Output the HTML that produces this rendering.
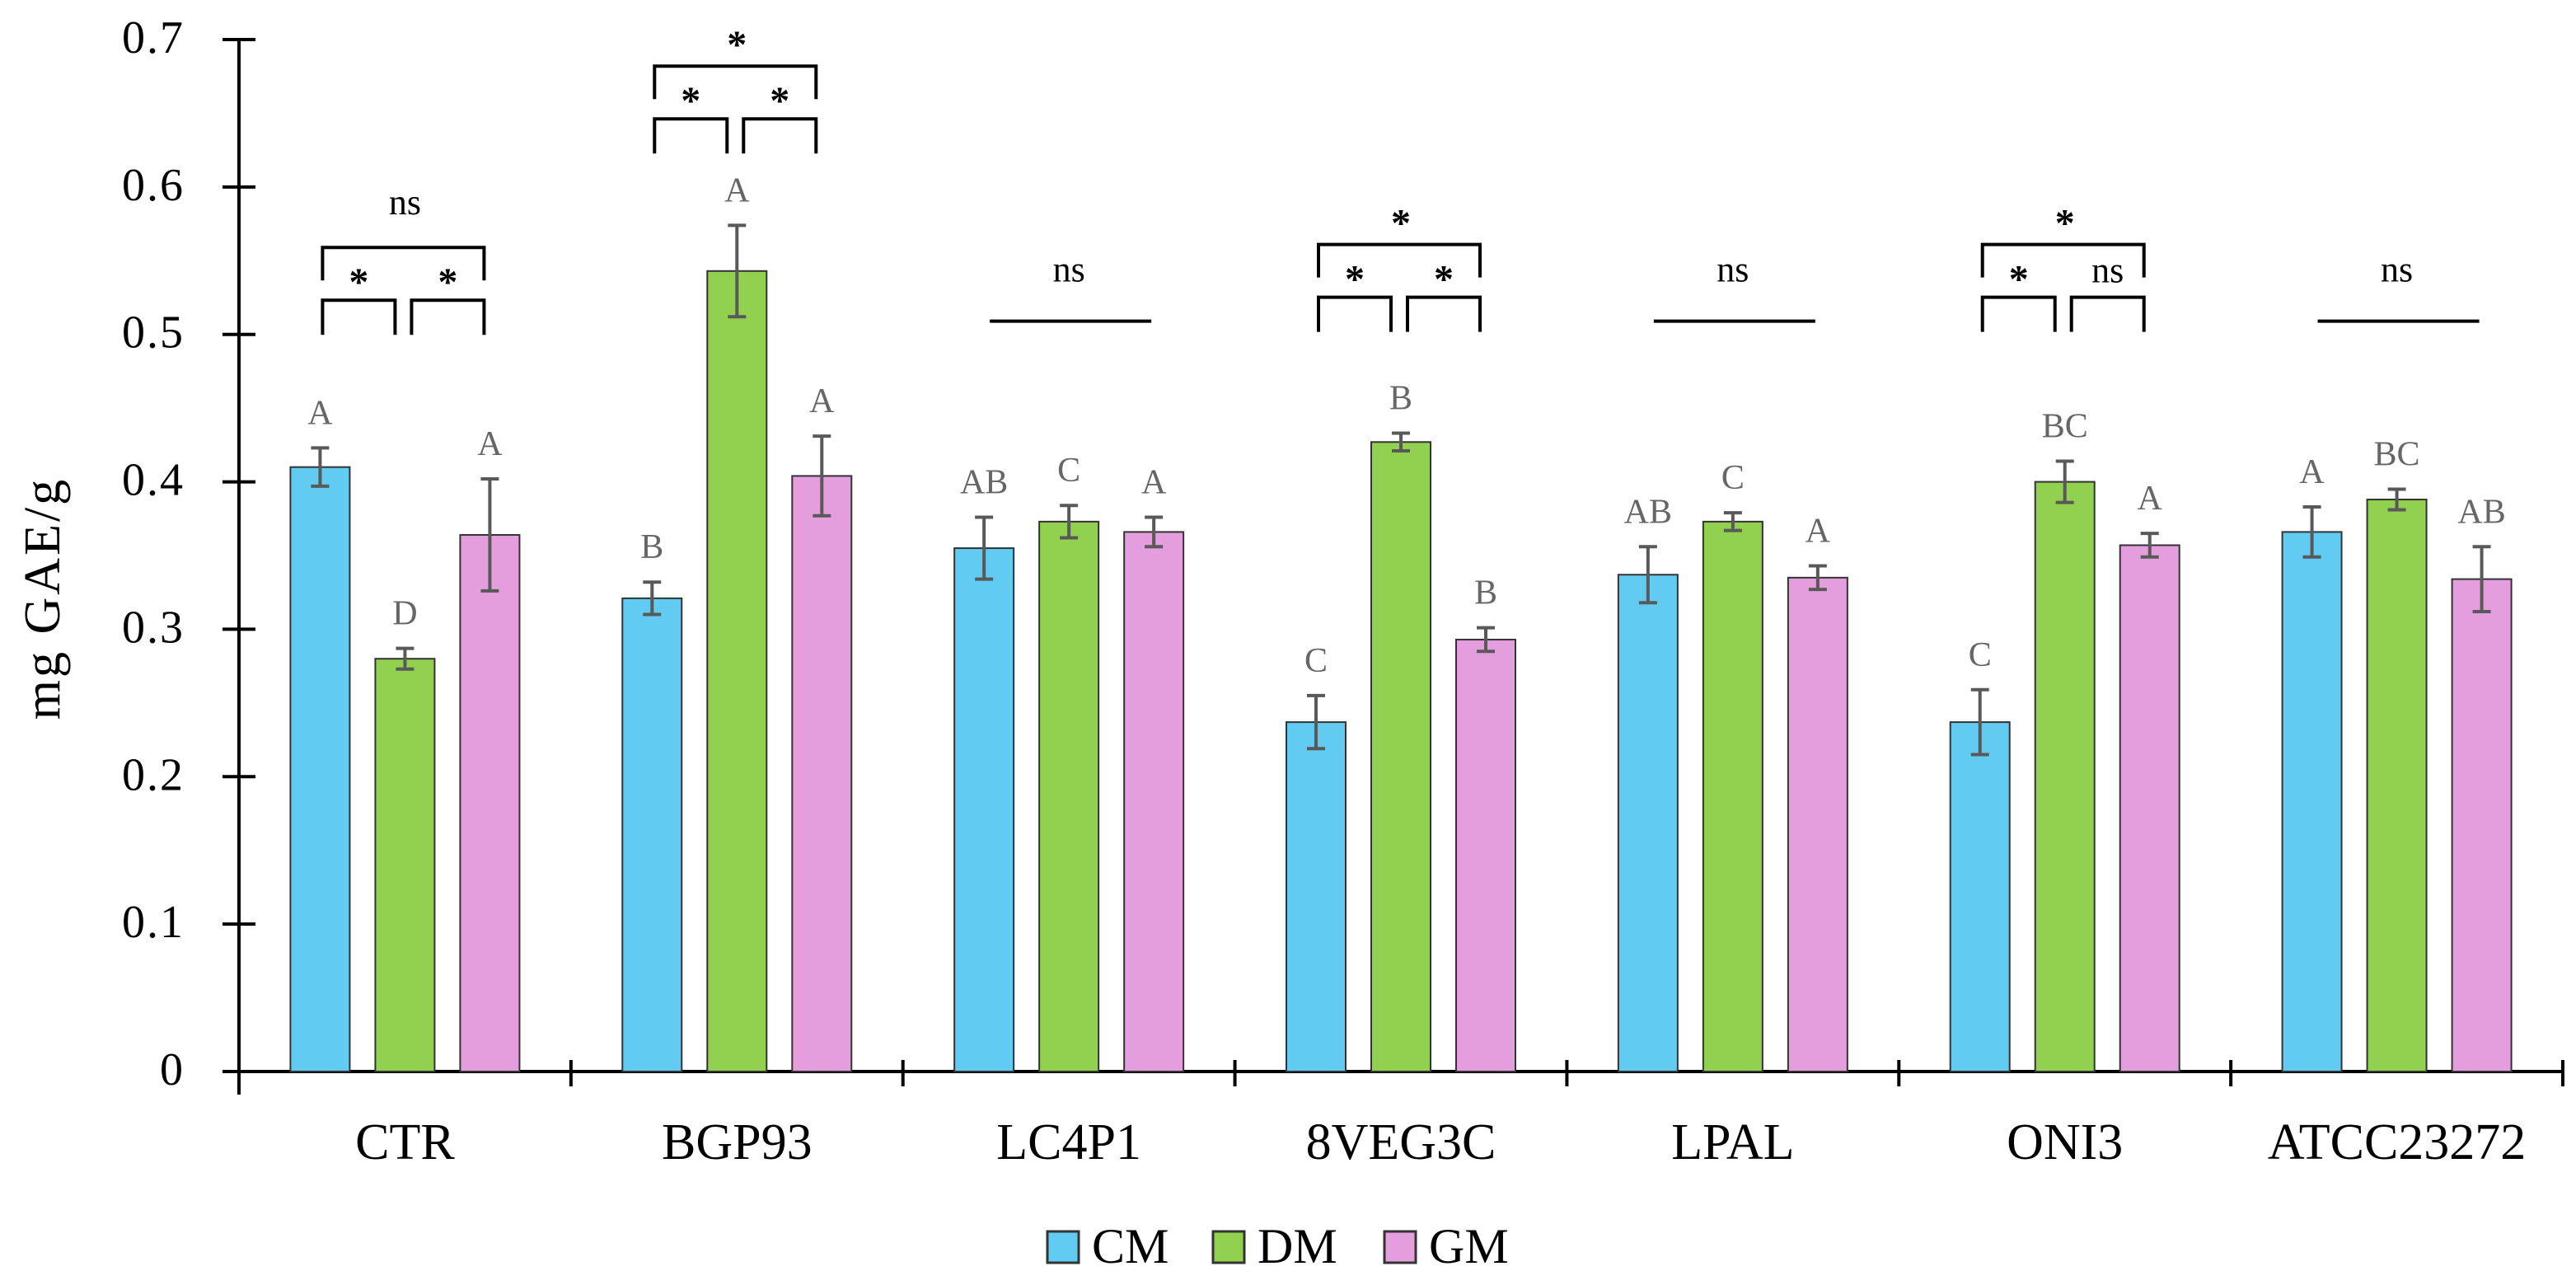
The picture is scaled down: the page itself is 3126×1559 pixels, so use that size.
<!DOCTYPE html>
<html><head><meta charset="utf-8"><style>
html,body{margin:0;padding:0;background:#fff;}
svg{display:block;font-family:"Liberation Serif",serif;}
</style></head><body>
<svg id="chart" width="3126" height="1559" viewBox="0 0 3126 1559" xmlns="http://www.w3.org/2000/svg">
<text x="0" y="0" transform="translate(72,726) rotate(-90)" text-anchor="middle" font-size="62" letter-spacing="3" fill="#000">mg GAE/g</text>
<g id="plot"></g>
</svg>
<script>
const categories = ["CTR","BGP93","LC4P1","8VEG3C","LPAL","ONI3","ATCC23272"];
const seriesNames = ["CM","DM","GM"];
const cmValues = [0.410,0.321,0.355,0.237,0.337,0.237,0.366];
const dmValues = [0.280,0.543,0.373,0.427,0.373,0.400,0.388];
const gmValues = [0.364,0.404,0.366,0.293,0.335,0.357,0.334];
const cmErr = [0.013,0.011,0.021,0.018,0.019,0.022,0.017];
const dmErr = [0.007,0.031,0.011,0.006,0.006,0.014,0.007];
const gmErr = [0.038,0.027,0.010,0.008,0.008,0.008,0.022];
const cmLetters = ["A","B","AB","C","AB","C","A"];
const dmLetters = ["D","A","C","B","C","BC","BC"];
const gmLetters = ["A","A","A","B","A","A","AB"];
const yTicks = [0,0.1,0.2,0.3,0.4,0.5,0.6,0.7];
const sigType = ["tri","tri","ns","tri","ns","tri","ns"];
const sigTop = [0.559,0.682,0.509,0.561,0.509,0.561,0.509];
const sigLeft = ["*","*","","*","","*",""];
const sigRight = ["*","*","","*","","ns",""];
const sigOverall = ["ns","*","ns","*","ns","*","ns"];
const colors = ["#62CBF2","#92D050","#E59EDD"];

const NS="http://www.w3.org/2000/svg";
const plot=document.getElementById('plot');
const X0=290, X1=3110, Y0=1300, YTOP=48, YMAX=0.7;
const gw=(X1-X0)/categories.length;
function y(v){return Y0-(v/YMAX)*(Y0-YTOP);}
function gx(i){return X0+gw*(i+0.5);}
function el(tag,attrs,parent){const e=document.createElementNS(NS,tag);for(const k in attrs)e.setAttribute(k,attrs[k]);(parent||plot).appendChild(e);return e;}
function txt(s,attrs,parent){const e=el('text',attrs,parent);e.textContent=s;return e;}

let a=el('line',{x1:X0,y1:YTOP,x2:X0,y2:Y0+28,stroke:'#000','stroke-width':4});


a=el('line',{x1:X0,y1:Y0,x2:X1,y2:Y0,stroke:'#000','stroke-width':4});


yTicks.forEach(t=>{
  const l=el('line',{x1:X0-20,y1:y(t),x2:X0+20,y2:y(t),stroke:'#000','stroke-width':4});
  
  
  const tx=txt(t===0?"0":t.toFixed(1),{x:X0-66,y:y(t)+16,'text-anchor':'end','font-size':56,'letter-spacing':2,fill:'#000'});
  
  
});
for(let i=0;i<=categories.length;i++){
  const xx=X0+gw*i;
  const l=el('line',{x1:xx,y1:Y0-14,x2:xx,y2:Y0+18,stroke:'#000','stroke-width':4});
  
  
}
const vals=[cmValues,dmValues,gmValues], errs=[cmErr,dmErr,gmErr], lets=[cmLetters,dmLetters,gmLetters];
const off=[-103,0,103], bw=72;
categories.forEach((c,i)=>{
  const cx=gx(i);
  const t=txt(c,{x:cx,y:1406,'text-anchor':'middle','font-size':62,fill:'#000'});
  
  
  for(let s=0;s<3;s++){
    const v=vals[s][i], e=errs[s][i], bx=cx+off[s];
    const r=el('rect',{x:bx-bw/2,y:y(v),width:bw,height:Y0-y(v),fill:colors[s],stroke:'#333','stroke-width':2});
    
    
    const g=el('g',{stroke:'#595959','stroke-width':4});
    
    
    el('line',{x1:bx,y1:y(v+e),x2:bx,y2:y(v-e)},g);
    el('line',{x1:bx-11,y1:y(v+e),x2:bx+11,y2:y(v+e)},g);
    el('line',{x1:bx-11,y1:y(v-e),x2:bx+11,y2:y(v-e)},g);
    const lt=txt(lets[s][i],{x:bx,y:y(v+e)-29,'text-anchor':'middle','font-size':42,fill:'#666'});
    
    
  }
  const top=y(sigTop[i]);
  const sg=el('g',{fill:'none',stroke:'#000','stroke-width':4});
  
  
  const starAttr=(s)=> s==='*' ? {'font-size':48,'font-weight':'bold'} : {'font-size':44};
  if(sigType[i]==='tri'){
    const L=cx-100, R=cx+96;
    el('path',{d:`M${L} ${top+40} V${top} H${R} V${top+40}`},sg);
    el('path',{d:`M${L} ${top+106} V${top+64} H${cx-12} V${top+106}`},sg);
    el('path',{d:`M${cx+8} ${top+106} V${top+64} H${R} V${top+106}`},sg);
    const s1=txt(sigLeft[i],Object.assign({x:(L+cx-12)/2,y:top+58,'text-anchor':'middle',fill:'#000'},starAttr(sigLeft[i])));
    
    
    const s2=txt(sigRight[i],Object.assign({x:(cx+8+R)/2,y:top+(sigRight[i]==='*'?58:46),'text-anchor':'middle',fill:'#000'},starAttr(sigRight[i])));
    
    
    const s3=txt(sigOverall[i],Object.assign({x:cx,y:top-(sigOverall[i]==='*'?10:40),'text-anchor':'middle',fill:'#000'},starAttr(sigOverall[i])));
    
    
  } else {
    el('line',{x1:cx-96,y1:top,x2:cx+100,y2:top},sg);
    const s3=txt(sigOverall[i],{x:cx,y:top-48,'text-anchor':'middle','font-size':44,fill:'#000'});
    
    
  }
});
const lx=[1271,1472,1680];
seriesNames.forEach((n,s)=>{
  const g=el('g',{});
  
  
  el('rect',{x:lx[s],y:1494,width:38,height:38,fill:colors[s],stroke:'#333','stroke-width':3},g);
  txt(n,{x:lx[s]+54,y:1532,'font-size':60,fill:'#000'},g);
});
</script>
</body></html>
